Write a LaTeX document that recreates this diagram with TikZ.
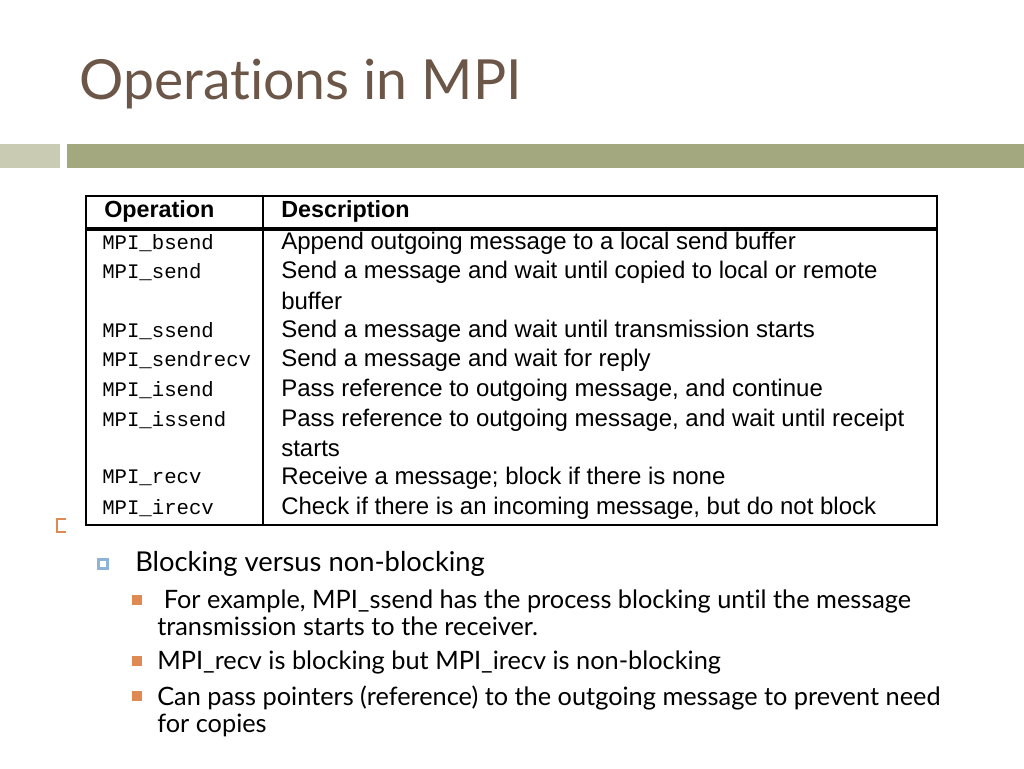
\documentclass[tikz,border=0pt]{standalone}
\usepackage{fontspec}
\setmainfont{Lato}[Ligatures=NoCommon]
\newfontfamily\descf{Liberation Sans}
\newfontfamily\opf{Liberation Mono}
\begin{document}
\begin{tikzpicture}[x=0.75pt,y=-0.75pt,
  op/.style={anchor=west,inner sep=0,font=\opf\fontsize{15.5}{18}\selectfont},
  ds/.style={anchor=west,inner sep=0,font=\descf\fontsize{18}{21}\selectfont},
  bl/.style={anchor=west,inner sep=0,font=\fontsize{20.5}{24}\selectfont},
  bs/.style={anchor=west,inner sep=0,font=\fontsize{19}{20.25}\selectfont,align=left}]
\definecolor{titlec}{HTML}{6B5648}
\definecolor{barL}{HTML}{C9CCB2}
\definecolor{barR}{HTML}{A3A87E}
\definecolor{orng}{HTML}{DE8A52}
\definecolor{blu}{HTML}{8DB3D6}
\useasboundingbox (0,0) rectangle (1024,768);
\node[anchor=west,inner sep=0,text=titlec,font=\fontsize{41.5}{48}\selectfont] (title) at (79,84) {Operations in MPI};
\fill[barL] (0,144) rectangle (60,168);
\fill[barR] (67,144) rectangle (1024,168);
\draw[line width=1pt] (86,196) rectangle (937,525);
\draw[line width=1pt] (263,196) -- (263,525);
\draw[line width=3.5pt] (86,229) -- (937,229);
\node[anchor=west,inner sep=0,font=\descf\bfseries\fontsize{17.5}{21}\selectfont] (h1) at (104,211) {Operation};
\node[anchor=west,inner sep=0,font=\descf\bfseries\fontsize{17.5}{21}\selectfont] (h2) at (281,211) {Description};
\foreach \y/\o/\d in {
 243/MPI\_bsend/Append outgoing message to a local send buffer,
 272/MPI\_send/Send a message and wait until copied to local or remote,
 301//buffer,
 331/MPI\_ssend/Send a message and wait until transmission starts,
 360/MPI\_sendrecv/Send a message and wait for reply,
 390/MPI\_isend/{Pass reference to outgoing message, and continue},
 420/MPI\_issend/{Pass reference to outgoing message, and wait until receipt},
 449//starts,
 478/MPI\_recv/Receive a message; block if there is none,
 508/MPI\_irecv/{Check if there is an incoming message, but do not block}}
 {\node[op] at (102,\y) {\o}; \node[ds] at (281,\y) {\d};}
\draw[orng,line width=0.8pt] (66,519) -- (57,519) -- (57,532) -- (66,532);
\fill[blu] (97,558) rectangle (109,570);
\fill[white] (100,561) rectangle (106,567);
\node[bl] (b1) at (135,564) {Blocking versus non-blocking};
\foreach \y in {600,661,696} \fill[orng] (132,\y-5) rectangle (142,\y+5);
\node[bs,anchor=north west] (s1) at (157,590) {\ For example, MPI\_ssend has the process blocking until the message\\transmission starts to the receiver.};
\node[bs] (s2) at (157,662) {MPI\_recv is blocking but MPI\_irecv is non-blocking};
\node[bs,anchor=north west] (s3) at (157,686) {Can pass pointers (reference) to the outgoing message to prevent need\\for copies};
\end{tikzpicture}
\end{document}
